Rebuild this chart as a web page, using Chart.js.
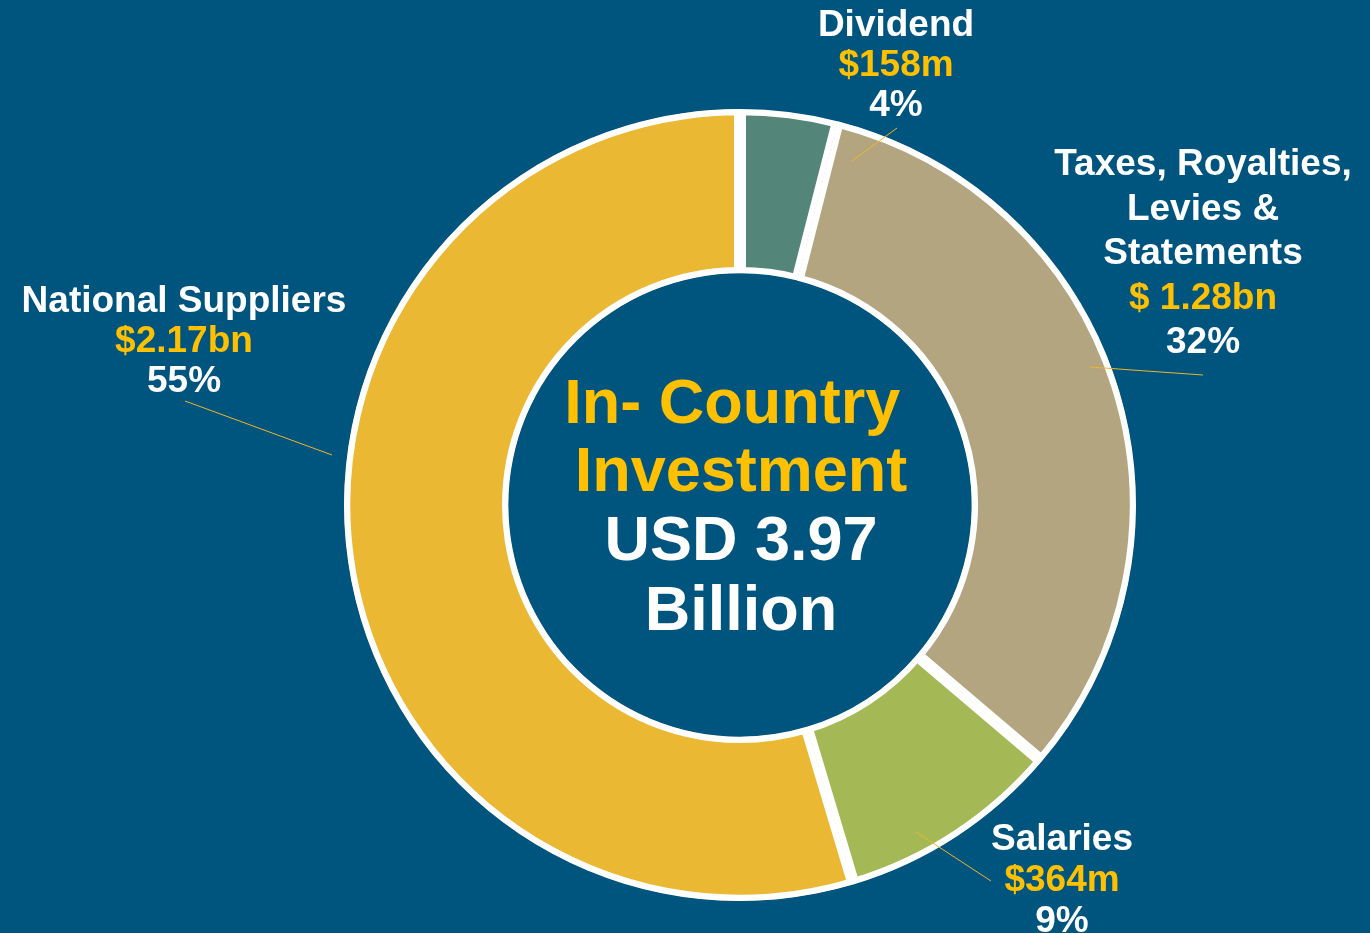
<!DOCTYPE html>
<html>
<head>
<meta charset="utf-8">
<title>In-Country Investment</title>
<script src="https://cdn.jsdelivr.net/npm/chart.js@4"></script>
<style>
  html, body { margin: 0; padding: 0; background: #00557f; }
  #wrap { width: 1370px; height: 933px; }
</style>
</head>
<body>
<div id="wrap"><canvas id="donut" width="1370" height="933"></canvas></div>
<script>
// spend categories, clockwise from the top
const categories = [
    ['Dividend'],
    ['Taxes, Royalties,', 'Levies &', 'Statements'],
    ['Salaries'],
    ['National Suppliers']
];
const amounts = [158, 1280, 364, 2170]; // USD millions
const amountLabels = ['$158m', '$ 1.28bn', '$364m', '$2.17bn'];
const sliceColors = ['#538579', '#b3a57f', '#a4b955', '#ebb833'];

// where each label block sits and where its leader line runs
const labelLayout = [
    { x: 896, y: 36, gap: 40, line: [852, 161, 897, 128] },
    { x: 1203, y: 175, gap: 44.5, line: [1090, 367, 1203, 375] },
    { x: 1062, y: 850, gap: 41, line: [916, 832, 991, 881] },
    { x: 184, y: 312, gap: 40, line: [185, 401, 332, 455] }
];

const GOLD = '#ffc000';
const FONT = 'bold 37px "Liberation Sans", Arial, sans-serif';

let total = amounts.reduce((a, b) => a + b, 0);
let shares = amounts.map(v => Math.round(v / total * 100) + '%');

// labels, leader lines and the caption in the hole
const annotations = {
    id: 'annotations',
    afterDraw(chart) {
        let ctx = chart.ctx;
        ctx.save();
        ctx.textAlign = 'center';
        ctx.textBaseline = 'alphabetic';

        for (let i = 0; i < categories.length; i++) {
            let lay = labelLayout[i];
            let l = lay.line;
            ctx.strokeStyle = '#f0b52a';
            ctx.lineWidth = 1;
            ctx.beginPath();
            ctx.moveTo(l[0], l[1]);
            ctx.lineTo(l[2], l[3]);
            ctx.stroke();

            ctx.font = FONT;
            let y = lay.y;
            ctx.fillStyle = '#ffffff';
            categories[i].forEach(t => {
                ctx.fillText(t, lay.x, y);
                y += lay.gap;
            });
            ctx.fillStyle = GOLD;
            ctx.fillText(amountLabels[i], lay.x, y);
            y += lay.gap;
            ctx.fillStyle = '#ffffff';
            ctx.fillText(shares[i], lay.x, y);
        }

        let cx = 741;
        ctx.font = 'bold 63px "Liberation Sans", Arial, sans-serif';
        ctx.fillStyle = GOLD;
        ctx.fillText('In- Country ', cx, 423);
        ctx.fillText('Investment', cx, 491);
        ctx.fillStyle = '#ffffff';
        ctx.fillText('USD ' + (total / 1000).toFixed(2), cx, 560);
        ctx.fillText('Billion', cx, 630);
        ctx.restore();
    }
};

let chart = new Chart(document.getElementById('donut'), {
    type: 'doughnut',
    data: {
        labels: categories.map(c => c.join(' ')),
        datasets: [{
            data: amounts,
            backgroundColor: sliceColors,
            borderColor: '#ffffff',
            borderWidth: 6,
            borderAlign: 'inner',
            hoverOffset: 0
        }]
    },
    options: {
        responsive: false,
        animation: false,
        cutout: '58.5%',
        layout: { padding: { left: 344, right: 234, top: 109, bottom: 32 } },
        plugins: {
            legend: { display: false },
            tooltip: { enabled: false }
        }
    },
    plugins: [annotations]
});
</script>
</body>
</html>
